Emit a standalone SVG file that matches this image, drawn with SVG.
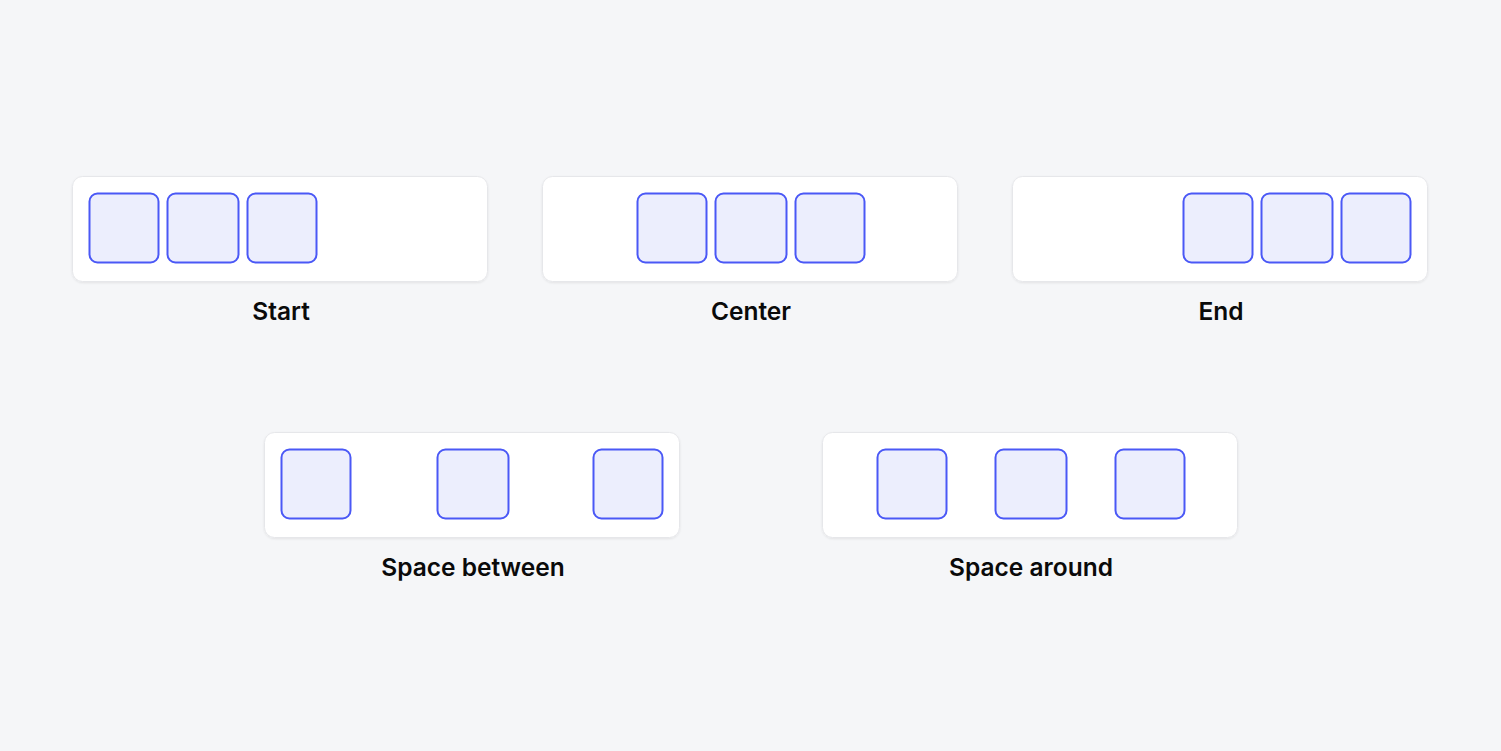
<svg xmlns="http://www.w3.org/2000/svg" width="1501" height="751" viewBox="0 0 1501 751">
  <defs>
    <filter id="sh" x="-5%" y="-20%" width="110%" height="140%">
      <feDropShadow dx="0" dy="1" stdDeviation="1" flood-color="#000" flood-opacity="0.08"/>
    </filter>
  </defs>
  <style>
    .panel { fill: #ffffff; stroke: #e6e7ea; stroke-width: 1; filter: url(#sh); }
    .item { fill: #eceefd; stroke: #4a58f6; stroke-width: 2; }
    .label { font-family: Inter, "Liberation Sans", sans-serif; font-weight: 600; font-size: 24.5px; fill: #0a0a0a; text-anchor: middle; }
  </style>
  <rect x="0" y="0" width="1501" height="751" fill="#f5f6f8"/>

  <g id="start">
    <rect class="panel" x="72.5" y="176.5" width="415" height="105" rx="10"/>
    <rect class="item" x="89.5" y="193.5" width="69" height="69" rx="8"/>
    <rect class="item" x="167.5" y="193.5" width="71" height="69" rx="8"/>
    <rect class="item" x="247.5" y="193.5" width="69" height="69" rx="8"/>
    <text class="label" x="281" y="320">Start</text>
  </g>

  <g id="center">
    <rect class="panel" x="542.5" y="176.5" width="415" height="105" rx="10"/>
    <rect class="item" x="637.5" y="193.5" width="69" height="69" rx="8"/>
    <rect class="item" x="715.5" y="193.5" width="71" height="69" rx="8"/>
    <rect class="item" x="795.5" y="193.5" width="69" height="69" rx="8"/>
    <text class="label" x="751" y="320">Center</text>
  </g>

  <g id="end">
    <rect class="panel" x="1012.5" y="176.5" width="415" height="105" rx="10"/>
    <rect class="item" x="1183.5" y="193.5" width="69" height="69" rx="8"/>
    <rect class="item" x="1261.5" y="193.5" width="71" height="69" rx="8"/>
    <rect class="item" x="1341.5" y="193.5" width="69" height="69" rx="8"/>
    <text class="label" x="1221" y="320">End</text>
  </g>

  <g id="space-between">
    <rect class="panel" x="264.5" y="432.5" width="415" height="105" rx="10"/>
    <rect class="item" x="281.5" y="449.5" width="69" height="69" rx="8"/>
    <rect class="item" x="437.5" y="449.5" width="71" height="69" rx="8"/>
    <rect class="item" x="593.5" y="449.5" width="69" height="69" rx="8"/>
    <text class="label" x="473" y="576">Space between</text>
  </g>

  <g id="space-around">
    <rect class="panel" x="822.5" y="432.5" width="415" height="105" rx="10"/>
    <rect class="item" x="877.5" y="449.5" width="69" height="69" rx="8"/>
    <rect class="item" x="995.5" y="449.5" width="71" height="69" rx="8"/>
    <rect class="item" x="1115.5" y="449.5" width="69" height="69" rx="8"/>
    <text class="label" x="1031" y="576">Space around</text>
  </g>

  <g id="connectors"></g>
</svg>
